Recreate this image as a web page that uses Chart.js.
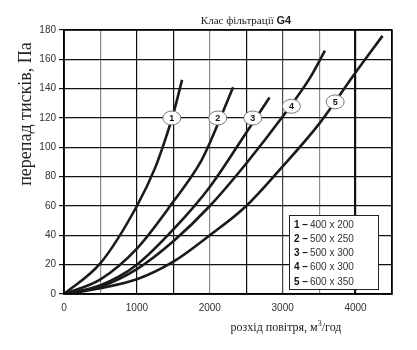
<!DOCTYPE html>
<html>
<head>
<meta charset="utf-8">
<script src="https://cdn.jsdelivr.net/npm/chart.js@4.4.1/dist/chart.umd.min.js"></script>
<style>
  html, body { margin: 0; padding: 0; background: #fff; }
  #wrap { width: 417px; height: 350px; }
</style>
</head>
<body>
<div id="wrap"><canvas id="chart-g4" width="417" height="350"></canvas></div>
<script>
// дані (розхід повітря, м3/год -> перепад тисків, Па)
const flow1 = [0, 500, 1000, 1250, 1400, 1500, 1620];
const dp1   = [0, 21, 60, 86, 107, 123, 146];
const flow2 = [0, 500, 1000, 1500, 1863, 2000, 2320];
const dp2   = [0, 10, 31, 63, 89, 103, 141];
const flow3 = [0, 500, 1000, 1500, 2000, 2500, 2820];
const dp3   = [0, 6, 20, 44, 73, 110, 134];
const flow4 = [0, 500, 1000, 1500, 2000, 2500, 3000, 3370, 3580];
const dp4   = [0, 5, 17, 36, 60, 89, 121, 147, 166];
const flow5 = [0, 500, 1000, 1500, 2000, 2500, 3000, 3500, 4000, 4370];
const dp5   = [0, 4, 10, 22, 40, 60, 87, 116, 151, 176];

const curveNames = ['1', '2', '3', '4', '5'];
const filterSizes = ['400 x 200', '500 x 250', '500 x 300', '600 x 300', '600 x 350'];
// де на кривих стоять кружечки з номерами
const markX = [1480, 2110, 2590, 3120, 3720];
const markY = [120, 120, 120, 128, 131];

const xTicks = [0, 1000, 2000, 3000, 4000];
const yTicks = [0, 20, 40, 60, 80, 100, 120, 140, 160, 180];

function toPoints(xs, ys) {
  return xs.map((x, i) => ({ x: x, y: ys[i] }));
}

const allFlows = [flow1, flow2, flow3, flow4, flow5];
const allDp = [dp1, dp2, dp3, dp4, dp5];

const datasets = allFlows.map((f, i) => ({
  label: curveNames[i],
  data: toPoints(f, allDp[i]),
  borderColor: '#1a1a1a',
  backgroundColor: '#1a1a1a',
  borderWidth: 2.6,
  pointRadius: 0,
  tension: 0.4,
  cubicInterpolationMode: 'monotone',
  borderCapStyle: 'butt'
}));

const serif = '"Liberation Serif", "DejaVu Serif", serif';
const sans = '"Liberation Sans", Arial, sans-serif';

// кружечки, рамка, підписи осей, легенда
const extras = {
  id: 'extras',
  afterDatasetsDraw(chart) {
    const ctx = chart.ctx;
    const xs = chart.scales.x, ys = chart.scales.y;
    const a = chart.chartArea;

    ctx.save();
    ctx.strokeStyle = '#000';
    ctx.lineWidth = 1.5;
    ctx.strokeRect(a.left, a.top, a.right - a.left, a.bottom - a.top);

    // номери кривих
    markX.forEach((mx, i) => {
      const px = xs.getPixelForValue(mx);
      const py = ys.getPixelForValue(markY[i]);
      ctx.beginPath();
      ctx.ellipse(px, py, 9, 7, 0, 0, Math.PI * 2);
      ctx.fillStyle = '#fff';
      ctx.fill();
      ctx.strokeStyle = '#777';
      ctx.lineWidth = 1;
      ctx.stroke();
      ctx.fillStyle = '#111';
      ctx.font = 'bold 9px ' + sans;
      ctx.textAlign = 'center';
      ctx.textBaseline = 'middle';
      ctx.fillText(curveNames[i], px, py + 0.5);
    });

    // легенда
    const lx = 289, ly = 215, lw = 89, lh = 74;
    ctx.fillStyle = '#fff';
    ctx.fillRect(lx, ly, lw, lh);
    ctx.strokeStyle = '#222';
    ctx.lineWidth = 1;
    ctx.strokeRect(lx + 0.5, ly + 0.5, lw, lh);
    ctx.textAlign = 'left';
    ctx.textBaseline = 'middle';
    filterSizes.forEach((s, i) => {
      const ty = ly + 10 + i * 14.2;
      ctx.fillStyle = '#111';
      ctx.font = 'bold 10px ' + sans;
      ctx.fillText(curveNames[i] + ' \u2013', lx + 5, ty);
      ctx.fillStyle = '#333';
      ctx.font = '10px ' + sans;
      ctx.fillText(s, lx + 21, ty);
    });

    // заголовок
    ctx.fillStyle = '#222';
    ctx.textBaseline = 'alphabetic';
    const t1 = 'Клас фільтрації ';
    ctx.font = 'bold 11px ' + sans;
    const w2 = ctx.measureText('G4').width;
    ctx.font = '11px ' + serif;
    const w1 = ctx.measureText(t1).width;
    let tx = 246 - (w1 + w2) / 2;
    ctx.fillText(t1, tx, 24);
    ctx.font = 'bold 11px ' + sans;
    ctx.fillText('G4', tx + w1, 24);

    // підпис осі Y
    ctx.save();
    ctx.translate(31, 114);
    ctx.rotate(-Math.PI / 2);
    ctx.font = '18px ' + serif;
    ctx.textAlign = 'center';
    ctx.fillStyle = '#222';
    ctx.fillText('перепад тисків, Па', 0, 0);
    ctx.restore();

    // підпис осі X
    ctx.font = '12px ' + serif;
    ctx.fillStyle = '#222';
    const p1 = 'розхід повітря, м', p3 = '/год';
    const wa = ctx.measureText(p1).width;
    const wc = ctx.measureText(p3).width;
    ctx.font = '8px ' + serif;
    const wb = ctx.measureText('3').width;
    let sx = 286 - (wa + wb + wc) / 2;
    ctx.font = '12px ' + serif;
    ctx.textAlign = 'left';
    ctx.fillText(p1, sx, 331);
    ctx.font = '8px ' + serif;
    ctx.fillText('3', sx + wa, 326);
    ctx.font = '12px ' + serif;
    ctx.fillText(p3, sx + wa + wb, 331);
    ctx.restore();
  }
};

function vLineColor(v) {
  if (v === 500 || v === 2000 || v === 3500) return '#8a8a8a';
  if (v === 3000) return '#444';
  return '#111';
}

const chart = new Chart(document.getElementById('chart-g4'), {
  type: 'line',
  data: { datasets: datasets },
  options: {
    responsive: false,
    animation: false,
    layout: { padding: { left: 0, right: 25, top: 30, bottom: 0 } },
    plugins: {
      legend: { display: false },
      tooltip: { enabled: false },
      title: { display: false }
    },
    scales: {
      x: {
        type: 'linear',
        min: 0,
        max: 4500,
        afterFit: s => { s.height = 56; },
        border: { color: '#000', width: 1.5 },
        grid: {
          drawTicks: false,
          color: c => vLineColor(c.tick.value),
          lineWidth: c => (c.tick.value === 4000 ? 2.2 : 1.2)
        },
        ticks: {
          stepSize: 500,
          padding: 8,
          color: '#333',
          font: { family: sans, size: 10 },
          callback: v => (xTicks.includes(v) ? String(v) : '')
        }
      },
      y: {
        min: 0,
        max: 180,
        afterFit: s => { s.width = 64; },
        border: { color: '#000', width: 1.5 },
        grid: {
          tickLength: 5,
          color: c => (c.tick.value % 20 === 0 ? '#111' : '#444'),
          lineWidth: 1.2
        },
        ticks: {
          stepSize: 10,
          padding: 3,
          color: '#333',
          font: { family: sans, size: 10 },
          callback: v => (yTicks.includes(v) ? String(v) : '')
        }
      }
    }
  },
  plugins: [extras]
});
</script>
</body>
</html>
